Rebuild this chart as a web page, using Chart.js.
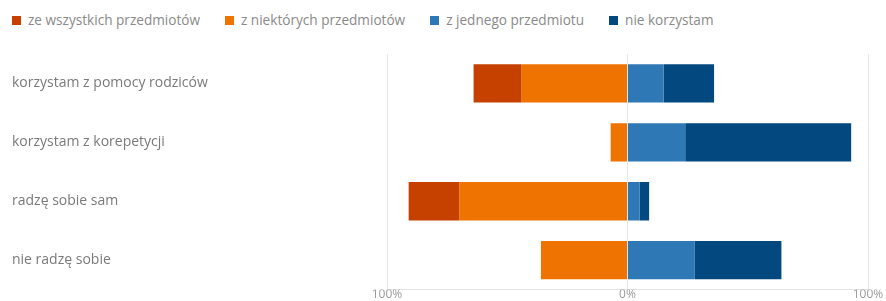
<!DOCTYPE html>
<html>
<head>
<meta charset="utf-8">
<script src="https://cdn.jsdelivr.net/npm/chart.js@4"></script>
<style>
	body { margin: 0; background: #fff; }
	#wrap { position: relative; width: 886px; height: 301px; overflow: hidden; }
	#legend { position: absolute; top: 11px; left: 12px; display: flex; font-family: 'Open Sans', sans-serif; font-size: 13.6px; color: #8a8a8a; line-height: 18px; white-space: nowrap; }
	#legend .item { display: flex; align-items: center; margin-right: 25px; }
	#legend .box { width: 9px; height: 9px; margin-right: 7px; }
	canvas { position: absolute; top: 0; left: 0; }
</style>
</head>
<body>
<div id="wrap">
	<div id="legend"></div>
	<canvas id="chart" width="886" height="301"></canvas>
</div>
<script>
// answers per row, in %
var categories = ['korzystam z pomocy rodziców', 'korzystam z korepetycji', 'radzę sobie sam', 'nie radzę sobie'];
var zeWszystkich = [20, 0, 21, 0];
var zNiektorych = [44, 7, 70, 36];
var zJednego = [15, 24, 5, 28];
var nieKorzystam = [21, 69, 4, 36];
var xTicks = [-100, 0, 100];

var seriesNames = ['ze wszystkich przedmiotów', 'z niektórych przedmiotów', 'z jednego przedmiotu', 'nie korzystam'];
var seriesColors = ['#c64100', '#ee7300', '#2f78b6', '#03487f'];

document.addEventListener('DOMContentLoaded', function()
{
	buildLegend();
	drawChart();
});

function buildLegend()
{
	var legend = document.getElementById('legend');
	seriesNames.forEach(function(name, i) {
		var item = document.createElement('div');
		item.className = 'item';
		var box = document.createElement('span');
		box.className = 'box';
		box.style.background = seriesColors[i];
		var txt = document.createElement('span');
		txt.textContent = name;
		item.appendChild(box);
		item.appendChild(txt);
		legend.appendChild(item);
	});
}

function drawChart()
{
	Chart.defaults.font.family = "'Open Sans', sans-serif";

	// left side goes negative; first dataset of each side sits next to 0
	var neg = function(arr) { return arr.map(function(v) { return -v; }); };

	var ctx = document.getElementById('chart').getContext('2d');
	new Chart(ctx, {
		type: 'bar',
		data: {
			labels: categories,
			datasets: [
				{ label: seriesNames[1], data: neg(zNiektorych), backgroundColor: seriesColors[1] },
				{ label: seriesNames[0], data: neg(zeWszystkich), backgroundColor: seriesColors[0] },
				{ label: seriesNames[2], data: zJednego, backgroundColor: seriesColors[2] },
				{ label: seriesNames[3], data: nieKorzystam, backgroundColor: seriesColors[3] }
			]
		},
		options: {
			indexAxis: 'y',
			responsive: false,
			animation: false,
			layout: { padding: { top: 54, left: 12, right: 18, bottom: 0 } },
			datasets: { bar: { barPercentage: 1, categoryPercentage: 0.65 } },
			plugins: {
				legend: { display: false },
				tooltip: { enabled: false }
			},
			scales: {
				x: {
					stacked: true,
					min: -100,
					max: 100,
					afterBuildTicks: function(scale) {
						scale.ticks = xTicks.map(function(v) { return { value: v }; });
					},
					grid: { color: '#e8e8e8', drawTicks: false },
					border: { color: '#e3e3e3' },
					ticks: {
						padding: -2,
						color: '#9a9a9a',
						font: { size: 12 },
						callback: function(v) { return Math.abs(v) + '%'; }
					}
				},
				y: {
					stacked: true,
					grid: { display: false },
					border: { display: false },
					afterFit: function(scale) { scale.width = 375; },
					ticks: {
						crossAlign: 'far',
						color: '#7a7a7a',
						font: { size: 14 }
					}
				}
			}
		}
	});
}
</script>
</body>
</html>
